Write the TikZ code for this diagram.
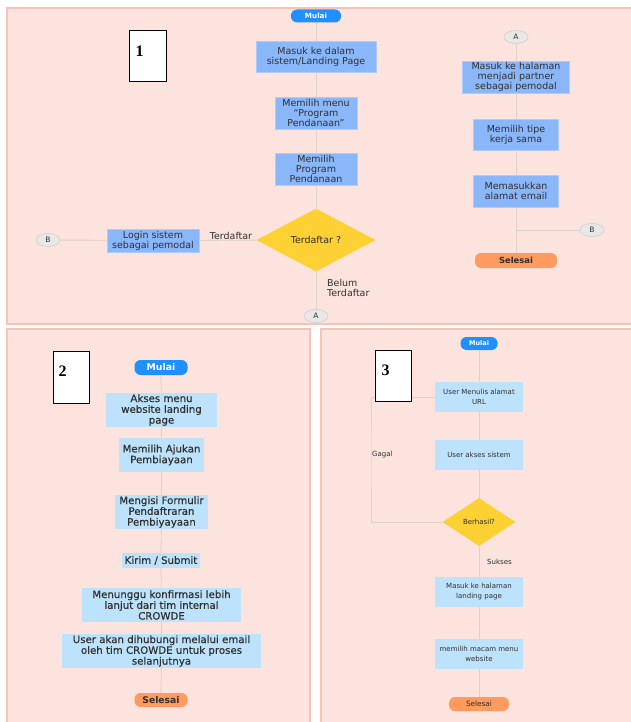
\documentclass[tikz,border=0pt]{standalone}
\usepackage{fontspec}
\setmainfont{DejaVu Sans}
\newfontfamily\angkafont{Liberation Serif}
\newfontfamily\agaktebal[FakeBold=0.5]{DejaVu Sans}
\usetikzlibrary{shapes.geometric}

\definecolor{panelbg}{HTML}{FDE3DD}
\definecolor{panelline}{HTML}{F8C2B6}
\definecolor{mulaiblue}{HTML}{1E90FF}
\definecolor{boxblue}{HTML}{8AB6FA}
\definecolor{lightblue}{HTML}{BDE2FB}
\definecolor{kuning}{HTML}{FDD034}
\definecolor{oranye}{HTML}{FF9B5E}
\definecolor{konfill}{HTML}{E8E8E8}
\definecolor{konline}{HTML}{D4D4D4}
\definecolor{garisc}{HTML}{E0D0CA}
\definecolor{teks}{HTML}{303030}

\newcommand{\hurufsatu}{\fontsize{9.5}{10}\selectfont}
\newcommand{\hurufdua}{\agaktebal\fontsize{10.2}{10.8}\selectfont}
\newcommand{\hurufkecil}{\fontsize{7}{10}\selectfont}

\tikzset{
	panel/.style={fill=panelbg, draw=panelline, line width=1.2pt},
	mulai/.style={fill=mulaiblue, text=white, rounded corners=6pt, inner sep=0pt},
	selesai/.style={fill=oranye, text=teks, rounded corners=6pt, inner sep=0pt},
	prosesA/.style={fill=boxblue, draw=boxblue!70!white, text=teks, align=center, inner sep=0pt, font=\hurufsatu},
	prosesB/.style={fill=lightblue, text=teks, align=center, inner sep=0pt},
	putusan/.style={diamond, fill=kuning, text=teks, inner sep=0pt},
	konektor/.style={ellipse, fill=konfill, draw=konline, line width=0.8pt, text=teks,
		minimum width=24pt, minimum height=13pt, inner sep=0pt, font=\fontsize{7.5}{8}\selectfont},
	garis/.style={draw=garisc, line width=0.9pt},
	label/.style={text=teks, inner sep=0pt},
	nomor/.style={draw=black, fill=white, line width=1pt, minimum width=37pt, minimum height=51pt, inner sep=0pt},
	nomorteks/.style={font=\angkafont\bfseries\fontsize{16}{16}\selectfont, inner sep=0pt}
}

\begin{document}
\begin{tikzpicture}[x=1pt, y=-1pt]
	\useasboundingbox (0,0) rectangle (631,722);
	\fill[white] (0,0) rectangle (631,722);

	% panels
	\draw[panel] (7,8) rectangle (640,324);
	\draw[panel] (7,329) rectangle (310,730);
	\draw[panel] (321,329) rectangle (640,730);

	% panel 1
	\node[mulai, minimum width=50pt, minimum height=13pt, font=\bfseries\fontsize{7.2}{8}\selectfont] (mulai1) at (316,16) {Mulai};
	\node[prosesA, minimum width=120pt, minimum height=31pt] (masuk1) at (316,56.5) {Masuk ke dalam\\sistem/Landing Page};
	\node[prosesA, minimum width=82pt, minimum height=32pt] (menu1) at (316,113) {Memilih menu\\``Program\\Pendanaan''};
	\node[prosesA, minimum width=82pt, minimum height=32pt] (program1) at (316,169) {Memilih\\Program\\Pendanaan};
	\node[putusan, minimum width=119pt, minimum height=63pt, font=\hurufsatu] (daftar1) at (316,240) {Terdaftar ?};
	\node[konektor] (A1) at (316,316) {A};
	\node[prosesA, minimum width=92pt, minimum height=23pt] (login1) at (153,240.5) {Login sistem\\sebagai pemodal};
	\node[konektor] (B1) at (48,240) {B};
	\node[label, font=\hurufsatu] (ya1) at (231,236) {Terdaftar};
	\node[label, font=\hurufsatu, align=left, anchor=west] (belum1) at (327,288) {Belum\\Terdaftar};

	\node[konektor] (A2) at (516,37) {A};
	\node[prosesA, minimum width=107pt, minimum height=32pt] (partner1) at (516,77) {Masuk ke halaman\\menjadi partner\\sebagai pemodal};
	\node[prosesA, minimum width=85pt, minimum height=31pt] (tipe1) at (516,134.5) {Memilih tipe\\kerja sama};
	\node[prosesA, minimum width=85pt, minimum height=32pt] (email1) at (516,191) {Memasukkan\\alamat email};
	\coordinate (cabang1) at (516,230);
	\node[konektor] (B2) at (592,230) {B};
	\node[selesai, minimum width=82pt, minimum height=15pt, font=\bfseries\fontsize{8.4}{9}\selectfont] (selesai1) at (516,260.5) {Selesai};

	\draw[garis] (mulai1) -- (masuk1);
	\draw[garis] (masuk1) -- (menu1);
	\draw[garis] (menu1) -- (program1);
	\draw[garis] (program1) -- (daftar1);
	\draw[garis] (daftar1) -- (A1);
	\draw[garis] (daftar1) -- (login1);
	\draw[garis] (login1) -- (B1);
	\draw[garis] (A2) -- (partner1);
	\draw[garis] (partner1) -- (tipe1);
	\draw[garis] (tipe1) -- (email1);
	\draw[garis] (email1) -- (selesai1);
	\draw[garis] (cabang1) -- (B2);

	% panel 2
	\node[mulai, minimum width=53pt, minimum height=15pt, font=\bfseries\fontsize{9.3}{10}\selectfont] (mulai2) at (161,367.5) {Mulai};
	\node[prosesB, font=\hurufdua, minimum width=111pt, minimum height=34pt] (akses2) at (161.5,410) {Akses menu\\website landing\\page};
	\node[prosesB, font=\hurufdua, minimum width=85pt, minimum height=34pt] (ajukan2) at (161.5,455) {Memilih Ajukan\\Pembiayaan};
	\node[prosesB, font=\hurufdua, minimum width=93pt, minimum height=34pt] (formulir2) at (161.5,512) {Mengisi Formulir\\Pendaftraran\\Pembiyayaan};
	\node[prosesB, font=\hurufdua, minimum width=78pt, minimum height=15pt] (kirim2) at (161,560.5) {Kirim / Submit};
	\node[prosesB, font=\hurufdua, minimum width=159pt, minimum height=34pt] (tunggu2) at (161.5,605) {Menunggu konfirmasi lebih\\lanjut dari tim internal\\CROWDE};
	\node[prosesB, font=\hurufdua, minimum width=199pt, minimum height=34pt] (hubungi2) at (161.5,651) {User akan dihubungi melalui email\\oleh tim CROWDE untuk proses\\selanjutnya};
	\node[selesai, minimum width=53pt, minimum height=14pt, font=\bfseries\fontsize{9.2}{10}\selectfont] (selesai2) at (161,700) {Selesai};

	\draw[garis] (mulai2) -- (akses2);
	\draw[garis] (akses2) -- (ajukan2);
	\draw[garis] (ajukan2) -- (formulir2);
	\draw[garis] (formulir2) -- (kirim2);
	\draw[garis] (kirim2) -- (tunggu2);
	\draw[garis] (tunggu2) -- (hubungi2);
	\draw[garis] (hubungi2) -- (selesai2);

	% panel 3
	\node[mulai, minimum width=37pt, minimum height=13pt, font=\bfseries\fontsize{6.5}{7}\selectfont] (mulai3) at (479,343.5) {Mulai};
	\node[prosesB, font=\hurufkecil, minimum width=88pt, minimum height=30pt] (url3) at (479,397) {User Menulis alamat\\URL};
	\node[prosesB, font=\hurufkecil, minimum width=88pt, minimum height=30pt] (akses3) at (479,455) {User akses sistem};
	\node[putusan, font=\hurufkecil, minimum width=73pt, minimum height=48pt] (berhasil3) at (479,522) {Berhasil?};
	\node[prosesB, font=\hurufkecil, minimum width=88pt, minimum height=30pt] (landing3) at (479,592) {Masuk ke halaman\\landing page};
	\node[prosesB, font=\hurufkecil, minimum width=88pt, minimum height=30pt] (menu3) at (479,654) {memilih macam menu\\website};
	\node[selesai, minimum width=60pt, minimum height=14pt, font=\fontsize{7.3}{8}\selectfont] (selesai3) at (479,704) {Selesai};
	\node[label, font=\hurufkecil, anchor=west] (gagal3) at (372,455) {Gagal};
	\node[label, font=\hurufkecil, anchor=west] (sukses3) at (487,562) {Sukses};

	\draw[garis] (mulai3) -- (url3);
	\draw[garis] (url3) -- (akses3);
	\draw[garis] (akses3) -- (berhasil3);
	\draw[garis] (berhasil3) -- (landing3);
	\draw[garis] (landing3) -- (menu3);
	\draw[garis] (menu3) -- (selesai3);
	\draw[garis] (berhasil3.west) -| (371,455) |- (url3.west);

	% nomor
	\node[nomor] (N1) at (147.5,56.5) {};
	\node[nomorteks] at ([xshift=11pt,yshift=-21pt]N1.north west) {1};
	\node[nomor, minimum width=36pt, minimum height=52pt] (N2) at (71,377) {};
	\node[nomorteks] at ([xshift=10pt,yshift=-21pt]N2.north west) {2};
	\node[nomor, minimum width=36pt, minimum height=51pt] (N3) at (393,375.5) {};
	\node[nomorteks] at ([xshift=11pt,yshift=-21pt]N3.north west) {3};

\end{tikzpicture}
\end{document}
